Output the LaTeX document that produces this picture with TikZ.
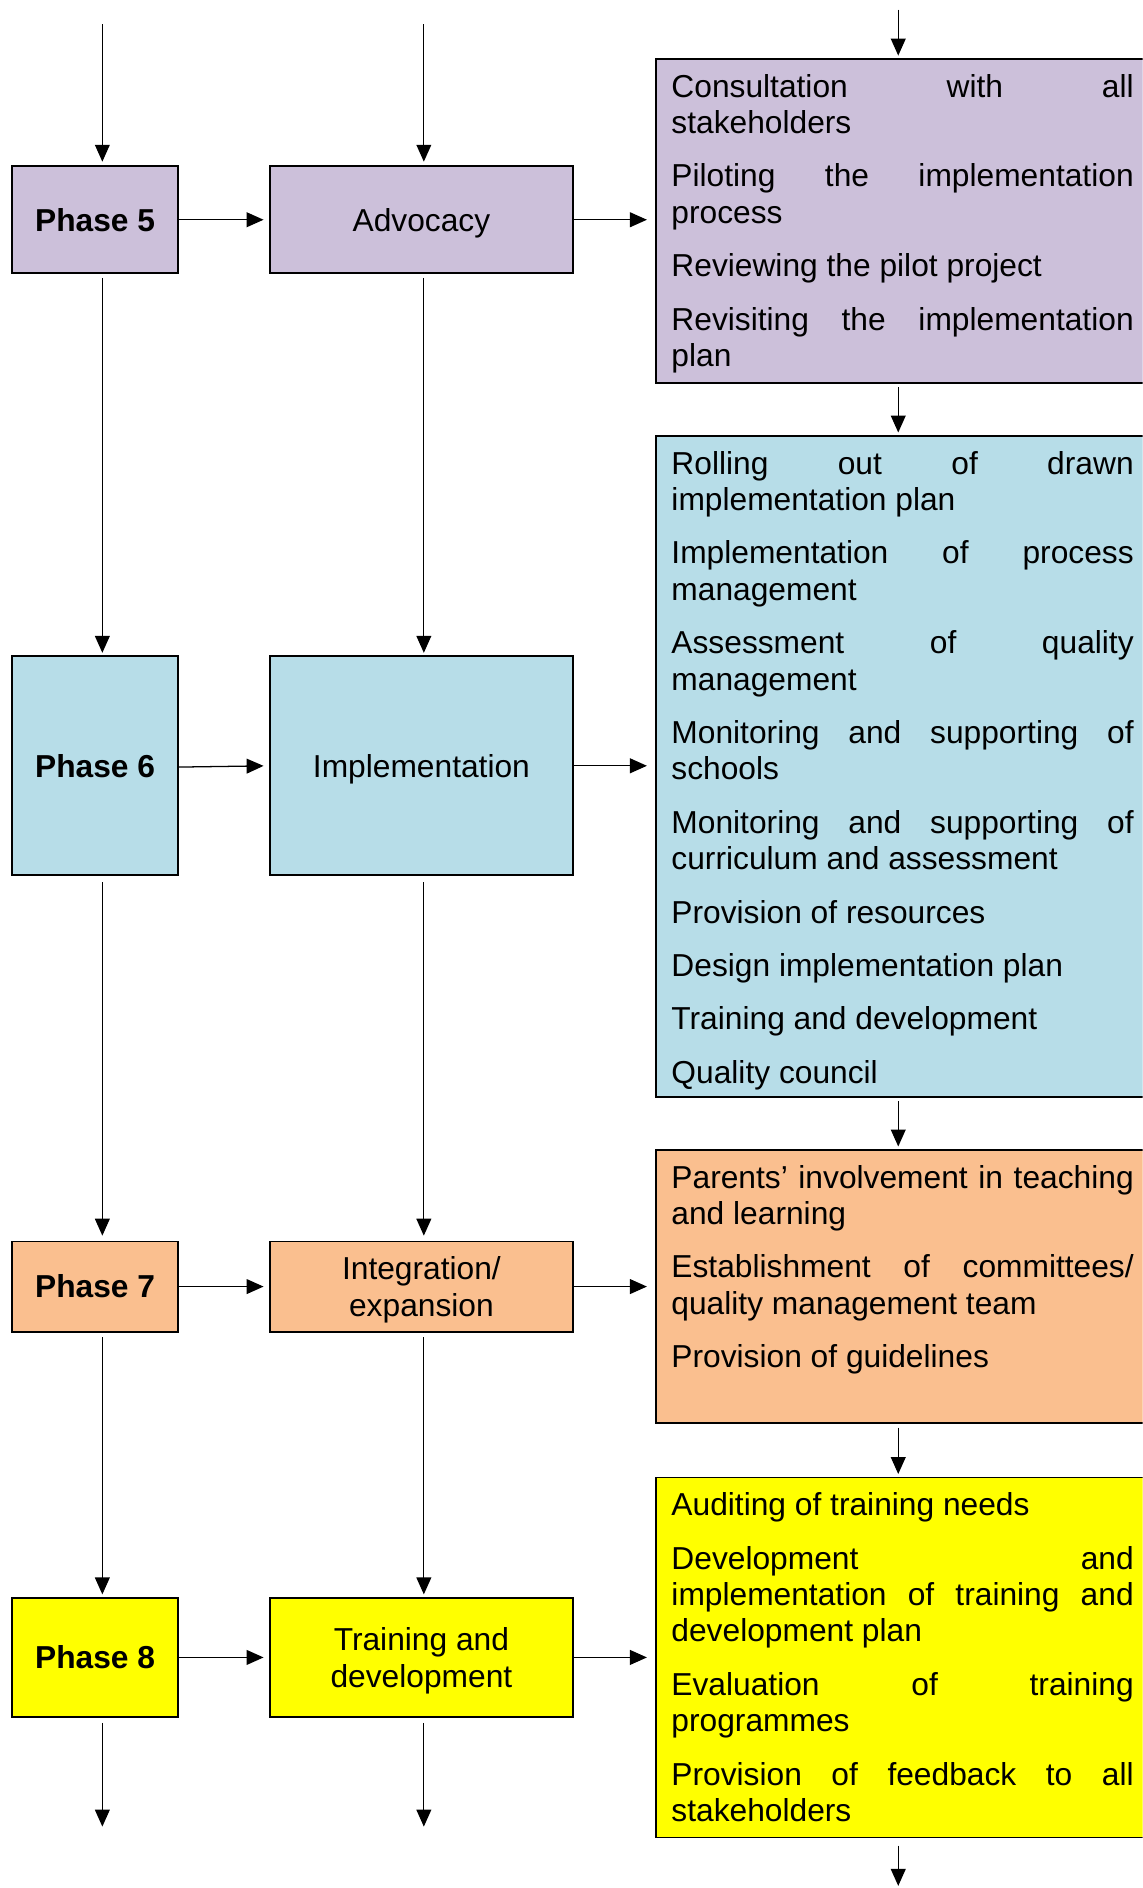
\documentclass[tikz,border=0pt]{standalone}
\usepackage{fontspec}
\setmainfont{Liberation Sans}
\usetikzlibrary{arrows.meta,calc}
\definecolor{cpurple}{HTML}{CCC0DA}
\definecolor{cblue}{HTML}{B7DDE8}
\definecolor{corange}{HTML}{FABF8F}
\definecolor{cyellow}{HTML}{FFFF00}
\newcommand\jline[1]{\leavevmode\hbox to 7.68cm{\spaceskip=0.278em plus 1fil\relax #1}}
\newcommand\firststrut{\spaceskip=0pt\xspaceskip=0pt\relax\leavevmode\rule{0pt}{12pt}}
\newcommand\pgap{\\[8.05pt]}
\tikzset{
  box/.style={draw=black, line width=0.85pt, inner sep=0pt, font=\fontsize{15}{17.2}\selectfont, align=center},
  phasebox/.style={box, minimum width=2.76cm, font=\fontsize{15}{17.2}\selectfont\bfseries},
  midbox/.style={box, minimum width=5.04cm, text depth=0pt},
  rightbox/.style={box, minimum width=8.3cm},
  txt/.style={anchor=north west, inner sep=0pt, text width=7.68cm, align=left, font=\fontsize{15}{17.2}\selectfont},
  arr/.style={line width=0.6pt, -{Triangle[length=8pt,width=7pt]}},
}
\begin{document}
\begin{tikzpicture}[x=0.02cm, y=-0.02cm]
\useasboundingbox (0,0) rectangle (949,1568);
\clip (0,0) rectangle (949,1568);

% phase column
\node[phasebox, fill=cpurple, minimum height=1.78cm] (p5) at (79,182.5) {Phase 5};
\node[phasebox, fill=cblue, minimum height=3.64cm] (p6) at (79,636) {Phase 6};
\node[phasebox, fill=corange, minimum height=1.5cm] (p7) at (79,1068.5) {Phase 7};
\node[phasebox, fill=cyellow, minimum height=1.98cm] (p8) at (79,1376.5) {Phase 8};

% middle column
\node[midbox, fill=cpurple, minimum height=1.78cm] (a5) at (350,182.5) {Advocacy};
\node[midbox, fill=cblue, minimum height=3.64cm] (a6) at (350,636) {Implementation};
\node[midbox, fill=corange, minimum height=1.5cm] (a7) at (350,1068.5) {Integration/\\expansion};
\node[midbox, fill=cyellow, minimum height=1.98cm] (a8) at (350,1376.5) {Training and\\development};

% right column
\node[rightbox, fill=cpurple, minimum height=5.38cm] (r1) at (752.5,183.5) {};
\node[rightbox, fill=cblue, minimum height=10.98cm] (r2) at (752.5,636.5) {};
\node[rightbox, fill=corange, minimum height=4.54cm] (r3) at (752.5,1068.5) {};
\node[rightbox, fill=cyellow, minimum height=5.98cm] (r4) at (752.5,1376.5) {};

\node[txt] (t1) at ($(r1.north west)+(13,11)$) {\firststrut\jline{Consultation with all}\\
stakeholders\pgap
\jline{Piloting the implementation}\\
process\pgap
Reviewing the pilot project\pgap
\jline{Revisiting the implementation}\\
plan};

\node[txt] (t2) at ($(r2.north west)+(13,11)$) {\firststrut\jline{Rolling out of drawn}\\
implementation plan\pgap
\jline{Implementation of process}\\
management\pgap
\jline{Assessment of quality}\\
management\pgap
\jline{Monitoring and supporting of}\\
schools\pgap
\jline{Monitoring and supporting of}\\
curriculum and assessment\pgap
Provision of resources\pgap
Design implementation plan\pgap
Training and development\pgap
Quality council};

\node[txt] (t3) at ($(r3.north west)+(13,11)$) {\firststrut\jline{Parents’ involvement in teaching}\\
and learning\pgap
\jline{Establishment of committees/}\\
quality management team\pgap
Provision of guidelines};

\node[txt] (t4) at ($(r4.north west)+(13,11)$) {\firststrut Auditing of training needs\pgap
\jline{Development and}\\
\jline{implementation of training and}\\
development plan\pgap
\jline{Evaluation of training}\\
programmes\pgap
\jline{Provision of feedback to all}\\
stakeholders};

% free ends
\coordinate (inp) at (85,20);
\coordinate (ina) at (352,20);
\coordinate (inr) at (746,8);
\coordinate (outp) at (85,1517);
\coordinate (outa) at (352,1517);
\coordinate (outr) at (746,1568);

% incoming arrows
\draw[arr, shorten >=1.7pt] (inp) -- (inp |- p5.north);
\draw[arr, shorten >=1.7pt] (ina) -- (ina |- a5.north);
\draw[arr, shorten >=1.2pt] (inr) -- (inr |- r1.north);

% horizontal arrows
\draw[arr, shorten >=2.5pt] (p5.east) -- (a5.west);
\draw[arr, shorten >=4pt] (a5.east) -- (a5.east -| r1.west);
\draw[arr, shorten >=2.5pt] ([yshift=-0.6pt]p6.east) -- (a6.west);
\draw[arr, shorten >=4pt] (a6.east) -- (a6.east -| r2.west);
\draw[arr, shorten >=2.5pt] (p7.east) -- (a7.west);
\draw[arr, shorten >=4pt] (a7.east) -- (a7.east -| r3.west);
\draw[arr, shorten >=2.5pt] (p8.east) -- (a8.west);
\draw[arr, shorten >=4pt] (a8.east) -- (a8.east -| r4.west);

% vertical phase column
\draw[arr, shorten <=1.7pt, shorten >=1.2pt] (inp |- p5.south) -- (inp |- p6.north);
\draw[arr, shorten <=2.8pt, shorten >=2.3pt] (inp |- p6.south) -- (inp |- p7.north);
\draw[arr, shorten <=2.3pt, shorten >=1.2pt] (inp |- p7.south) -- (inp |- p8.north);
\draw[arr, shorten <=2.3pt] (inp |- p8.south) -- (outp);

% vertical middle column
\draw[arr, shorten <=1.7pt, shorten >=1.2pt] (ina |- a5.south) -- (ina |- a6.north);
\draw[arr, shorten <=2.8pt, shorten >=2.3pt] (ina |- a6.south) -- (ina |- a7.north);
\draw[arr, shorten <=2.3pt, shorten >=1.2pt] (ina |- a7.south) -- (ina |- a8.north);
\draw[arr, shorten <=2.3pt] (ina |- a8.south) -- (outa);

% vertical right column
\draw[arr, shorten <=1.7pt, shorten >=1.2pt] (inr |- r1.south) -- (inr |- r2.north);
\draw[arr, shorten <=1.7pt, shorten >=1.2pt] (inr |- r2.south) -- (inr |- r3.north);
\draw[arr, shorten <=1.7pt, shorten >=1.2pt] (inr |- r3.south) -- (inr |- r4.north);
\draw[arr, shorten <=3.5pt, shorten >=1pt] (inr |- r4.south) -- (outr);
\end{tikzpicture}
\end{document}
